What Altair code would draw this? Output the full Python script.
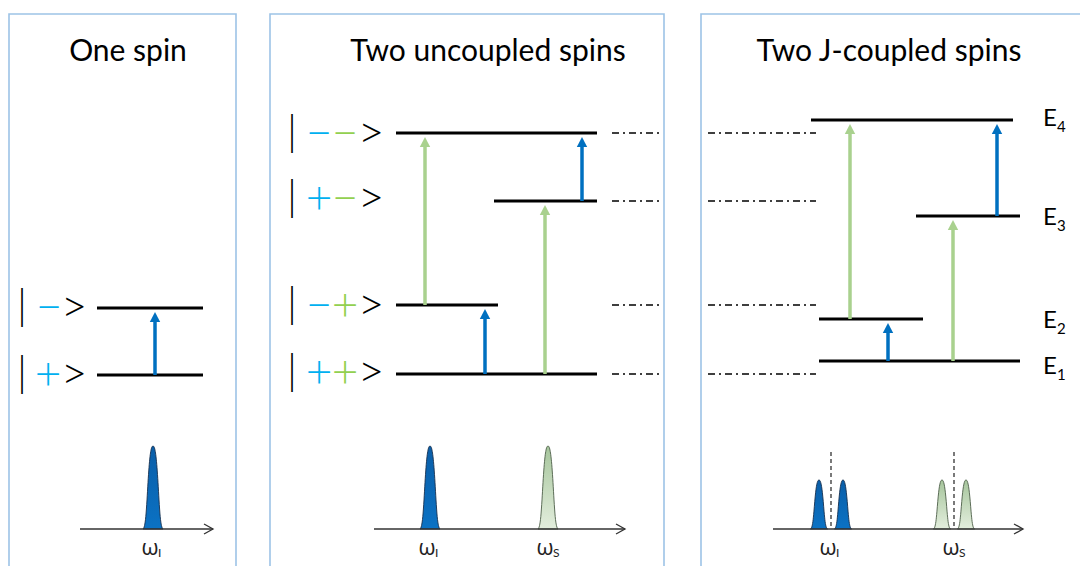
import altair as alt
import pandas as pd

# ---------------- values (diagram units = pixels) ----------------
panel_titles = ["One spin", "Two uncoupled spins", "Two J-coupled spins"]
title_x = [128, 488, 889]
title_baseline = 61
panel_left = [9, 270, 701]
panel_right = [236, 664, 1120]
panel_top = 14
panel_bottom = 620

# energy levels (panel 1: |->,|+>; panel 2: |-->,|+->,|-+>,|++>; panel 3: E4,E3,E2,E1)
level_x1 = [97, 97, 396, 494, 396, 396, 811, 916, 819, 819]
level_x2 = [203, 203, 597, 597, 498, 597, 1013, 1020, 923, 1020]
level_y = [308, 375, 133, 201, 305, 374, 120, 216, 319, 361]

# dash-dot guide lines between panel 2 and panel 3
guide_y = [133, 201, 305, 374]
guide_x1 = [612, 708]
guide_x2 = [660, 816]

# transitions (arrows)
arrow_x = [155, 425, 545, 485, 582, 850, 953, 888, 997]
arrow_low = [375, 305, 374, 374, 201, 319, 361, 361, 216]
arrow_high = [308, 133, 201, 305, 133, 120, 216, 319, 120]
arrow_spin = ["I", "S", "S", "I", "I", "S", "S", "I", "I"]

# ket labels
ket_y = [308, 375, 134, 199, 306, 373]
ket_bar_x = [22, 22, 292, 292, 292, 292]
ket_sign1 = ["−", "+", "−", "+", "−", "+"]
ket_sign1_x = [49, 48, 319, 319, 319, 319]
ket_sign2 = ["", "", "−", "−", "+", "+"]
ket_sign2_x = [0, 0, 345, 345, 345, 345]
ket_close_x = [74, 74, 371, 371, 371, 371]

# energy labels
e_sub = ["4", "3", "2", "1"]
e_y = [119, 218, 321, 367]
e_x = 1043

# spectra
axis_x1 = [80, 374, 773]
axis_x2 = [213, 625, 1023]
axis_y = 529
peak_center = [153, 430, 548, 819, 843, 942, 966]
peak_height = [83, 83, 83, 49, 49, 49, 49]
peak_halfwidth = [10, 10, 10, 8.5, 8.5, 8.5, 8.5]
peak_spin = ["I", "I", "S", "I", "I", "S", "S"]
profile_dx = [-1.0, -0.85, -0.72, -0.6, -0.5, -0.4, -0.3, -0.2, -0.1, 0,
              0.1, 0.2, 0.3, 0.4, 0.5, 0.6, 0.72, 0.85, 1.0]
profile_h = [0, 0.04, 0.15, 0.35, 0.56, 0.74, 0.87, 0.95, 0.99, 1,
             0.99, 0.95, 0.87, 0.74, 0.56, 0.35, 0.15, 0.04, 0]
split_x = [831, 954]
split_top = 452
omega_x = [153, 430, 548, 831, 954]
omega_sub = ["I", "I", "S", "I", "S"]
omega_y = 548
chevron_dx = [-9, 0, -9]
chevron_dy = [-5, 0, 5]

# colours
BLUE = "#0070c0"
CYAN = "#00b0f0"
GREEN_TXT = "#92d050"
GREEN_ARROW = "#a9d18e"
FRAME = "#9dc3e6"
spin_color = {"I": BLUE, "S": GREEN_ARROW}

# ---------------- chart ----------------
W, H = 1072, 558
XS = alt.Scale(domain=[8, 8 + W], nice=False, zero=False)
YS = alt.Scale(domain=[8, 8 + H], nice=False, zero=False, reverse=True)


def X(f="x"):
    return alt.X(f"{f}:Q", scale=XS, axis=None)


def Y(f="y"):
    return alt.Y(f"{f}:Q", scale=YS, axis=None)


frames_df = pd.DataFrame({"x": panel_left, "x2": panel_right,
                          "y": [panel_top] * 3, "y2": [panel_bottom] * 3})
frames = alt.Chart(frames_df).mark_rect(
    fill="white", fillOpacity=0, stroke=FRAME, strokeWidth=1.6, clip=True
).encode(x=X(), x2="x2:Q", y=Y(), y2="y2:Q")

titles_df = pd.DataFrame({"t": panel_titles, "x": title_x, "y": [title_baseline] * 3})
titles = alt.Chart(titles_df).mark_text(
    font="Lato", fontSize=30, baseline="alphabetic", align="center", color="black"
).encode(x=X(), y=Y(), text="t:N")

levels_df = pd.DataFrame({"x": level_x1, "x2": level_x2, "y": level_y})
levels = alt.Chart(levels_df).mark_rule(strokeWidth=3, color="black").encode(
    x=X(), x2="x2:Q", y=Y())

g_rows = [{"x": a, "x2": b, "y": yy} for a, b in zip(guide_x1, guide_x2) for yy in guide_y]
guides = alt.Chart(pd.DataFrame(g_rows)).mark_rule(
    strokeWidth=2, color="#3f3f3f", strokeDash=[7, 4, 2, 4]).encode(x=X(), x2="x2:Q", y=Y())

arr_df = pd.DataFrame({
    "x": arrow_x,
    "y": arrow_low,
    "tip": [h + 4 for h in arrow_high],
    "base": [h + 13 for h in arrow_high],
    "c": [spin_color[s] for s in arrow_spin],
})
shafts = alt.Chart(arr_df).mark_rule(strokeWidth=3.5).encode(
    x=X(), y=Y(), y2="base:Q", color=alt.Color("c:N", scale=None))
heads = alt.Chart(arr_df).mark_point(
    shape="M0,0L0.52,1L-0.52,1Z", filled=True, size=400, opacity=1, strokeWidth=0
).encode(x=X(), y=Y("tip"), color=alt.Color("c:N", scale=None))

bar_rows, sign_rows = [], []
for i, yy in enumerate(ket_y):
    bar_rows.append({"t": "|", "x": ket_bar_x[i], "y": yy - 1})
    sign_rows.append({"t": ket_sign1[i], "x": ket_sign1_x[i], "y": yy, "c": CYAN})
    if ket_sign2[i]:
        sign_rows.append({"t": ket_sign2[i], "x": ket_sign2_x[i], "y": yy, "c": GREEN_TXT})
    sign_rows.append({"t": ">", "x": ket_close_x[i], "y": yy, "c": "#000000"})
ket_bars = alt.Chart(pd.DataFrame(bar_rows)).mark_text(
    font="Lato", fontSize=42, fontWeight=300, baseline="middle", align="center", color="#000000"
).encode(x=X(), y=Y(), text="t:N")
ket_signs = alt.Chart(pd.DataFrame(sign_rows)).mark_text(
    font="Lato", fontSize=46, fontWeight=300, baseline="middle", align="center"
).encode(x=X(), y=Y(), text="t:N", color=alt.Color("c:N", scale=None))

e_df = pd.DataFrame({"t": ["E"] * 4, "x": [e_x] * 4, "y": e_y})
e_main = alt.Chart(e_df).mark_text(
    font="Lato", fontSize=24, baseline="middle", align="left", color="black"
).encode(x=X(), y=Y(), text="t:N")
esub_df = pd.DataFrame({"t": e_sub, "x": [e_x + 14] * 4, "y": [v + 8 for v in e_y]})
e_subs = alt.Chart(esub_df).mark_text(
    font="Lato", fontSize=15, baseline="middle", align="left", color="black"
).encode(x=X(), y=Y(), text="t:N")

p_rows = []
for k, (c, h, hw, s) in enumerate(zip(peak_center, peak_height, peak_halfwidth, peak_spin)):
    for dx, f in zip(profile_dx, profile_h):
        p_rows.append({"pid": k, "x": c + dx * hw, "y": axis_y - f * h, "y2": axis_y, "spin": s})
pdf = pd.DataFrame(p_rows)
blue_grad = alt.Gradient(gradient="linear", x1=0, x2=0, y1=0, y2=1,
                         stops=[alt.GradientStop(color="#0a5ea8", offset=0),
                                alt.GradientStop(color="#0b72c4", offset=1)])
green_grad = alt.Gradient(gradient="linear", x1=0, x2=0, y1=0, y2=1,
                          stops=[alt.GradientStop(color="#a6c59c", offset=0),
                                 alt.GradientStop(color="#e3eedd", offset=1)])
peaks_I = alt.Chart(pdf[pdf.spin == "I"]).mark_area(
    color=blue_grad, stroke="#16304f", strokeWidth=0.9, interpolate="monotone"
).encode(x=X(), y=Y(), y2="y2:Q", detail="pid:N")
peaks_S = alt.Chart(pdf[pdf.spin == "S"]).mark_area(
    color=green_grad, stroke="#4d5f48", strokeWidth=0.9, interpolate="monotone"
).encode(x=X(), y=Y(), y2="y2:Q", detail="pid:N")

axes_df = pd.DataFrame({"x": axis_x1, "x2": axis_x2, "y": [axis_y] * 3})
axes = alt.Chart(axes_df).mark_rule(strokeWidth=1.3, color="#333333").encode(
    x=X(), x2="x2:Q", y=Y())
ch_rows = []
for k, xe in enumerate(axis_x2):
    for o, (dx, dy) in enumerate(zip(chevron_dx, chevron_dy)):
        ch_rows.append({"aid": k, "o": o, "x": xe + dx, "y": axis_y + dy})
chev = alt.Chart(pd.DataFrame(ch_rows)).mark_line(strokeWidth=1.3, color="#333333").encode(
    x=X(), y=Y(), detail="aid:N", order="o:Q")

split_df = pd.DataFrame({"x": split_x, "y": [split_top] * 2, "y2": [axis_y] * 2})
splits = alt.Chart(split_df).mark_rule(strokeWidth=1.2, color="#222222", strokeDash=[4, 3]).encode(
    x=X(), y=Y(), y2="y2:Q")

om_df = pd.DataFrame({"t": ["ω"] * len(omega_x), "x": [v - 3 for v in omega_x], "y": [omega_y] * len(omega_x)})
omegas = alt.Chart(om_df).mark_text(
    font="Open Sans", fontSize=22, baseline="middle", align="center", color="#222222"
).encode(x=X(), y=Y(), text="t:N")
oms_df = pd.DataFrame({"t": omega_sub, "x": [v + 5 for v in omega_x], "y": [omega_y + 5] * len(omega_x)})
omsubs = alt.Chart(oms_df).mark_text(
    font="Lato", fontSize=12, baseline="middle", align="left", color="#222222"
).encode(x=X(), y=Y(), text="t:N")

chart = alt.layer(
    frames, guides, levels, shafts, heads, peaks_I, peaks_S, axes, chev, splits,
    titles, ket_bars, ket_signs, e_main, e_subs, omegas, omsubs
).properties(
    width=W, height=H, autosize=alt.AutoSizeParams(type="none"), padding=0
).configure_view(stroke=None)

chart.save("out.html", embed_options={"renderer": "svg", "actions": False})
